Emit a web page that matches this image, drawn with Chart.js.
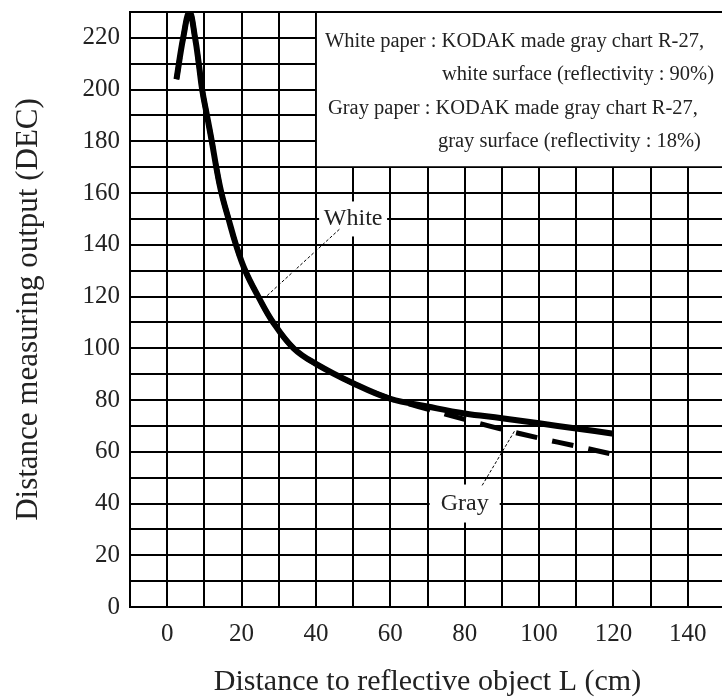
<!DOCTYPE html>
<html>
<head>
<meta charset="utf-8">
<script src="https://cdn.jsdelivr.net/npm/chart.js@4.4.1/dist/chart.umd.min.js"></script>
<style>
body{margin:0;background:#fff;overflow:hidden}
#wrap{width:728px;height:700px}
</style>
</head>
<body>
<div id="wrap"><canvas id="graf"></canvas></div>
<script>
// white paper curve (cm, DEC)
const whiteX = [2.5, 4.3, 6, 7.5, 8.5, 9.4, 10.7, 12, 13.2, 14.6, 16.5, 18.5, 21, 24.5, 28.5, 34, 40, 50, 60, 70, 80, 90, 100, 110, 120];
const whiteY = [204, 220, 230, 220, 210, 200, 190, 180, 170, 160, 150, 140, 130, 120, 110, 100, 94, 86.5, 80.5, 77.5, 74.8, 73, 71, 69, 67];
// gray paper curve
const grayX = [2.5, 4.3, 6, 7.5, 8.5, 9.4, 10.7, 12, 13.2, 14.6, 16.5, 18.5, 21, 24.5, 28.5, 34, 40, 50, 60, 65, 70, 80, 90, 100, 110, 120];
const grayY = [204, 220, 230, 220, 210, 200, 190, 180, 170, 160, 150, 140, 130, 120, 110, 100, 94, 86.5, 80.5, 78.5, 76.5, 72.5, 68.7, 65.3, 62.2, 59];

const xTicks = [0, 20, 40, 60, 80, 100, 120, 140];
const yTicks = [0, 20, 40, 60, 80, 100, 120, 140, 160, 180, 200, 220];

const noteLines = [
    'White paper : KODAK made gray chart R-27,',
    'white surface (reflectivity : 90%)',
    'Gray paper : KODAK made gray chart R-27,',
    'gray surface (reflectivity : 18%)'
];

const serif = '"Liberation Serif", "DejaVu Serif", serif';

const notes = {
    id: 'notes',
    beforeDatasetsDraw(chart) {
        const {ctx, scales: {x, y}, chartArea: a} = chart;
        // text box in the upper right corner, x 40.., y 170..
        let bx = x.getPixelForValue(40);
        let by = y.getPixelForValue(170);
        ctx.save();
        ctx.fillStyle = '#fff';
        ctx.fillRect(bx + 1, a.top + 1, a.right - bx, by - a.top - 2);
        ctx.fillStyle = '#222';
        ctx.font = '20.5px ' + serif;
        ctx.textBaseline = 'alphabetic';
        let offs = [[9, 35], [126, 68], [12, 102], [122, 135]];
        noteLines.forEach((t, i) => ctx.fillText(t, bx + offs[i][0], a.top + offs[i][1]));
        ctx.restore();
    },
    afterDatasetsDraw(chart) {
        const {ctx, scales: {x, y}} = chart;
        let tags = [
            {text: 'White', at: [50, 150], w: 68, h: 35, from: [46.3, 146], to: [26.6, 120]},
            {text: 'Gray', at: [80, 40], w: 70, h: 38, from: [84.7, 47], to: [93.4, 68]}
        ];
        ctx.save();
        tags.forEach(t => {
            let px = x.getPixelForValue(t.at[0]), py = y.getPixelForValue(t.at[1]);
            ctx.fillStyle = '#fff';
            ctx.fillRect(px - t.w / 2, py - t.h / 2, t.w, t.h);
            ctx.fillStyle = '#222';
            ctx.font = '24px ' + serif;
            ctx.textAlign = 'center';
            ctx.textBaseline = 'middle';
            ctx.fillText(t.text, px, py);
            ctx.strokeStyle = '#000';
            ctx.lineWidth = 1;
            ctx.setLineDash([3, 2]);
            ctx.beginPath();
            ctx.moveTo(x.getPixelForValue(t.from[0]), y.getPixelForValue(t.from[1]));
            ctx.lineTo(x.getPixelForValue(t.to[0]), y.getPixelForValue(t.to[1]));
            ctx.stroke();
        });
        ctx.restore();
    }
};

document.addEventListener('DOMContentLoaded', () => {
    let cont = document.getElementById('graf').getContext('2d');
    new Chart(cont, {
        type: 'line',
        data: {
            datasets: [
                {
                    label: 'White',
                    data: whiteX.map((v, i) => ({x: v, y: whiteY[i]})),
                    borderColor: '#000',
                    borderWidth: 6,
                    pointRadius: 0,
                    tension: 0.4,
                    fill: false
                },
                {
                    label: 'Gray',
                    data: grayX.map((v, i) => ({x: v, y: grayY[i]})),
                    borderColor: '#000',
                    borderWidth: 5,
                    borderDash: [22, 15],
                    pointRadius: 0,
                    tension: 0.4,
                    fill: false
                }
            ]
        },
        options: {
            responsive: true,
            maintainAspectRatio: false,
            animation: false,
            layout: {padding: {top: 12, right: 3, left: 0, bottom: 0}},
            plugins: {legend: {display: false}, tooltip: {enabled: false}},
            scales: {
                x: {
                    type: 'linear',
                    min: -10,
                    max: 150,
                    afterFit: s => { s.height = 93; s.paddingLeft = 0; s.paddingRight = 0; },
                    ticks: {
                        stepSize: 10,
                        autoSkip: false,
                        maxRotation: 0,
                        padding: 12,
                        color: '#222',
                        font: {family: serif, size: 25},
                        callback: v => xTicks.includes(v) ? String(v) : ''
                    },
                    grid: {color: '#000', lineWidth: 2, drawTicks: false},
                    border: {color: '#000', width: 2},
                    title: {
                        display: true,
                        text: 'Distance to reflective object L (cm)',
                        color: '#222',
                        font: {family: serif, size: 30},
                        padding: {top: 0, bottom: 0}
                    }
                },
                y: {
                    min: 0,
                    max: 230,
                    afterFit: s => { s.width = 130; s.paddingTop = 0; s.paddingBottom = 0; },
                    ticks: {
                        stepSize: 10,
                        autoSkip: false,
                        padding: 10,
                        color: '#222',
                        font: {family: serif, size: 25},
                        callback: v => yTicks.includes(v) ? String(v) : ''
                    },
                    grid: {color: '#000', lineWidth: 2, drawTicks: false},
                    border: {color: '#000', width: 2},
                    title: {
                        display: true,
                        text: 'Distance measuring output (DEC)',
                        color: '#222',
                        font: {family: serif, size: 31},
                        padding: {top: 10, bottom: 0}
                    }
                }
            }
        },
        plugins: [notes]
    });
});
</script>
</body>
</html>
